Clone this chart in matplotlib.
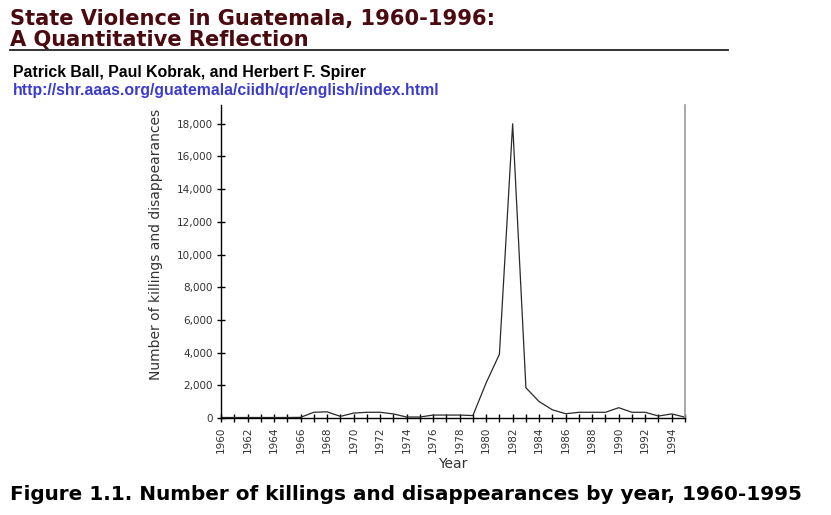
import matplotlib
matplotlib.use("Agg")
import matplotlib.pyplot as plt
from matplotlib.ticker import FuncFormatter, MultipleLocator

years = list(range(1960, 1996))
counts = [30, 30, 30, 30, 30, 30, 40, 350, 380, 100, 300, 350, 350, 250, 60, 60,
          180, 180, 180, 150, 2150, 3900, 18000, 1850, 1000, 500, 260, 350, 350, 350,
          630, 350, 350, 120, 250, 50]

title1 = "State Violence in Guatemala, 1960-1996:"
title2 = "A Quantitative Reflection"
authors = "Patrick Ball, Paul Kobrak, and Herbert F. Spirer"
url = "http://shr.aaas.org/guatemala/ciidh/qr/english/index.html"
caption = "Figure 1.1. Number of killings and disappearances by year, 1960-1995"
xlabel = "Year"
ylabel = "Number of killings and disappearances"

W, H = 831, 515
fig = plt.figure(figsize=(W / 100, H / 100), dpi=100)

def fx(px):
    return px / W

def fy(py):
    return 1 - py / H

ax = fig.add_axes([fx(221), fy(418), fx(685 - 221), (418 - 105) / H])
ax.plot(years, counts, color="#2a2a2a", lw=0.9)
ax.set_xlim(1960, 1995)
ax.set_ylim(0, 19150)

ax.spines["top"].set_visible(False)
ax.spines["right"].set_color("#999999")
ax.spines["right"].set_linewidth(1.2)
ax.spines["left"].set_linewidth(1.0)
ax.spines["bottom"].set_linewidth(1.0)

ax.set_yticks(range(0, 18001, 2000))
ax.yaxis.set_major_formatter(FuncFormatter(lambda v, p: f"{int(v):,}"))
ax.xaxis.set_minor_locator(MultipleLocator(1))
ax.set_xticks(range(1960, 1995, 2))
ax.set_xticklabels([str(y) for y in range(1960, 1995, 2)], rotation=90)

ax.tick_params(axis="y", direction="inout", length=6, width=1, labelsize=7.5,
               labelcolor="#333333", pad=3)
ax.tick_params(axis="x", which="both", direction="inout", length=6, width=1,
               labelsize=7.5, labelcolor="#333333", pad=3)

ax.set_xlabel(xlabel, fontsize=10, color="#333333", labelpad=3)
ax.set_ylabel(ylabel, fontsize=10, color="#333333")
ax.yaxis.set_label_coords(-0.125, 0.553)

fig.text(fx(10), fy(19), title1, fontsize=15.1, fontweight="bold", color="#4a0a0f",
         va="center", ha="left", family="DejaVu Sans")
fig.text(fx(10), fy(40), title2, fontsize=15.1, fontweight="bold", color="#4a0a0f",
         va="center", ha="left", family="DejaVu Sans")
fig.add_artist(plt.Line2D([fx(10), fx(728)], [fy(49.5), fy(49.5)], color="#222222", lw=1.3))
fig.text(fx(13), fy(72), authors, fontsize=11.4, fontweight="bold", color="black",
         va="center", ha="left", family="Liberation Sans")
fig.text(fx(13), fy(90), url, fontsize=11.4, fontweight="bold", color="#3c3ccc",
         va="center", ha="left", family="Liberation Sans")
fig.text(fx(10), fy(494), caption, fontsize=14.4, fontweight="bold", color="black",
         va="center", ha="left", family="DejaVu Sans")

fig.savefig("out.png", dpi=100)
